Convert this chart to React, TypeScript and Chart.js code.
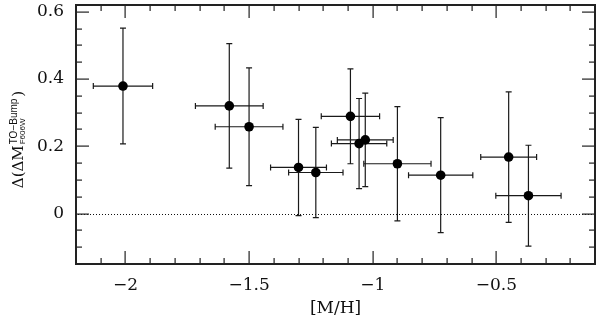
import React, { useEffect, useRef } from "react";
import { Chart, registerables } from "chart.js";

Chart.register(...registerables);

// ---- data ----
const metallicity = [-2.01, -1.58, -1.5, -1.3, -1.23, -1.09, -1.055, -1.03, -0.9, -0.725, -0.45, -0.37];
const deltaMag = [0.379, 0.32, 0.258, 0.137, 0.122, 0.289, 0.208, 0.219, 0.148, 0.114, 0.168, 0.053];
const metallicityErr = [0.12, 0.137, 0.137, 0.113, 0.11, 0.118, 0.112, 0.113, 0.136, 0.13, 0.113, 0.132];
const deltaMagErr = [0.172, 0.185, 0.175, 0.143, 0.134, 0.141, 0.134, 0.139, 0.17, 0.171, 0.194, 0.15];

const xTickValues = [-2, -1.5, -1, -0.5];
const xTickLabels = ["−2", "−1.5", "−1", "−0.5"];
const yTickValues = [0, 0.2, 0.4, 0.6];
const yTickLabels = ["0", "0.2", "0.4", "0.6"];

const X_MIN = -2.2;
const X_MAX = -0.1;
const Y_MIN = -0.15;
const Y_MAX = 0.62;

const INK = "#111";
const FRAME = "#222";

const decorPlugin = {
  id: "decor",
  beforeDatasetsDraw(chart: any) {
    const { ctx, chartArea: a, scales } = chart;
    const xs = scales.x;
    const ys = scales.y;
    ctx.save();
    // dotted zero line
    ctx.fillStyle = INK;
    const y0 = Math.round(ys.getPixelForValue(0));
    for (let px = Math.round(a.left) + 2; px < a.right; px += 3) {
      ctx.fillRect(px, y0, 1, 1);
    }
    // error bars
    ctx.strokeStyle = "#1a1a1a";
    ctx.lineWidth = 1.2;
    const cap = 3;
    for (let i = 0; i < metallicity.length; i++) {
      const px = xs.getPixelForValue(metallicity[i]);
      const py = ys.getPixelForValue(deltaMag[i]);
      const xl = xs.getPixelForValue(metallicity[i] - metallicityErr[i]);
      const xr = xs.getPixelForValue(metallicity[i] + metallicityErr[i]);
      const yt = ys.getPixelForValue(deltaMag[i] + deltaMagErr[i]);
      const yb = ys.getPixelForValue(deltaMag[i] - deltaMagErr[i]);
      ctx.beginPath();
      ctx.moveTo(xl, py);
      ctx.lineTo(xr, py);
      ctx.moveTo(xl, py - cap);
      ctx.lineTo(xl, py + cap);
      ctx.moveTo(xr, py - cap);
      ctx.lineTo(xr, py + cap);
      ctx.moveTo(px, yt);
      ctx.lineTo(px, yb);
      ctx.moveTo(px - cap, yt);
      ctx.lineTo(px + cap, yt);
      ctx.moveTo(px - cap, yb);
      ctx.lineTo(px + cap, yb);
      ctx.stroke();
    }
    ctx.restore();
  },
  afterDraw(chart: any) {
    const { ctx, chartArea: a, scales } = chart;
    const xs = scales.x;
    const ys = scales.y;
    const L = Math.round(a.left);
    const R = Math.round(a.right);
    const T = Math.round(a.top);
    const B = Math.round(a.bottom);
    ctx.save();
    ctx.fillStyle = FRAME;
    // frame
    ctx.fillRect(L - 1, T - 1, R - L + 2, 2);
    ctx.fillRect(L - 1, B - 1, R - L + 2, 2);
    ctx.fillRect(L - 1, T - 1, 2, B - T + 2);
    ctx.fillRect(R - 1, T - 1, 2, B - T + 2);
    // x ticks: major every 0.5, minor every 0.1
    for (let k = -22; k <= -1; k++) {
      const v = k / 10;
      if (v < X_MIN - 1e-9 || v > X_MAX + 1e-9) continue;
      const px = Math.round(xs.getPixelForValue(v));
      const len = k % 5 === 0 ? 13 : 6;
      ctx.fillRect(px - 0.5, B - len, 1.2, len);
      ctx.fillRect(px - 0.5, T, 1.2, len);
    }
    // y ticks: major every 0.2, minor every 0.05
    for (let k = -3; k <= 12; k++) {
      const v = k / 20;
      if (v < Y_MIN - 1e-9 || v > Y_MAX + 1e-9) continue;
      const py = Math.round(ys.getPixelForValue(v));
      const len = k % 4 === 0 ? 13 : 6;
      ctx.fillRect(L, py - 0.5, len, 1.2);
      ctx.fillRect(R - len, py - 0.5, len, 1.2);
    }

    // y-axis title with super/subscripts
    const mainFont = "15px 'DejaVu Serif'";
    const supFont = "10px 'Liberation Sans'";
    const subFont = "8px 'Liberation Sans'";
    const main = "Δ(ΔM";
    const sup = "TO−Bump";
    const sub = "F606W";
    const close = ")";
    ctx.fillStyle = INK;
    ctx.textBaseline = "alphabetic";
    ctx.textAlign = "left";
    ctx.font = mainFont;
    const wMain = ctx.measureText(main).width;
    const wClose = ctx.measureText(close).width;
    ctx.font = supFont;
    const wSup = ctx.measureText(sup).width;
    ctx.font = subFont;
    const wSub = ctx.measureText(sub).width;
    const scriptW = Math.max(wSup, wSub);
    const total = wMain + 1 + scriptW + 2 + wClose;
    ctx.translate(23, (a.top + a.bottom) / 2 + 5);
    ctx.rotate(-Math.PI / 2);
    let x = -total / 2;
    ctx.font = mainFont;
    ctx.fillText(main, x, 0);
    x += wMain + 1;
    ctx.font = supFont;
    ctx.fillText(sup, x, -6);
    ctx.font = subFont;
    ctx.fillText(sub, x, 1.5);
    x += scriptW + 2;
    ctx.font = mainFont;
    ctx.fillText(close, x, 0);
    ctx.restore();
  },
};

export default function App() {
  const canvasRef = useRef<HTMLCanvasElement | null>(null);

  useEffect(() => {
    document.body.style.margin = "0";
    const canvas = canvasRef.current;
    if (!canvas) return;
    const points = metallicity.map((m, i) => ({ x: m, y: deltaMag[i] }));
    const chart = new Chart(canvas, {
      type: "scatter",
      data: {
        datasets: [
          {
            data: points,
            pointRadius: 4.8,
            pointHoverRadius: 4.8,
            backgroundColor: "#000",
            borderColor: "#000",
            borderWidth: 0,
          },
        ],
      },
      options: {
        responsive: false,
        animation: false,
        devicePixelRatio: 1,
        layout: { padding: { top: 5, right: 3, left: 0, bottom: 0 } },
        plugins: {
          legend: { display: false },
          tooltip: { enabled: false },
          title: { display: false },
        },
        scales: {
          x: {
            type: "linear",
            min: X_MIN,
            max: X_MAX,
            grid: { display: false, drawTicks: false },
            border: { display: false },
            afterBuildTicks: (scale: any) => {
              scale.ticks = xTickValues.map((v) => ({ value: v }));
            },
            afterFit: (scale: any) => {
              scale.height = 55;
              scale.paddingLeft = 0;
              scale.paddingRight = 0;
            },
            ticks: {
              padding: 11,
              color: INK,
              font: { family: "'DejaVu Serif'", size: 17 },
              autoSkip: false,
              maxRotation: 0,
              callback: (_v: any, i: number) => xTickLabels[i],
            },
            title: {
              display: true,
              text: "[M/H]",
              color: INK,
              font: { family: "'DejaVu Serif'", size: 17 },
              padding: { top: 0, bottom: 0 },
            },
          },
          y: {
            type: "linear",
            min: Y_MIN,
            max: Y_MAX,
            grid: { display: false, drawTicks: false },
            border: { display: false },
            afterBuildTicks: (scale: any) => {
              scale.ticks = yTickValues.map((v) => ({ value: v }));
            },
            afterFit: (scale: any) => {
              scale.width = 76;
              scale.paddingTop = 0;
              scale.paddingBottom = 0;
            },
            ticks: {
              padding: 12,
              color: INK,
              font: { family: "'DejaVu Serif'", size: 17 },
              autoSkip: false,
              callback: (_v: any, i: number) => yTickLabels[i],
            },
          },
        },
      },
      plugins: [decorPlugin],
    });
    return () => chart.destroy();
  }, []);

  return (
    <div style={{ width: 600, height: 319, position: "relative" }}>
      <canvas ref={canvasRef} width={600} height={319} style={{ display: "block", width: 600, height: 319 }} />
    </div>
  );
}
